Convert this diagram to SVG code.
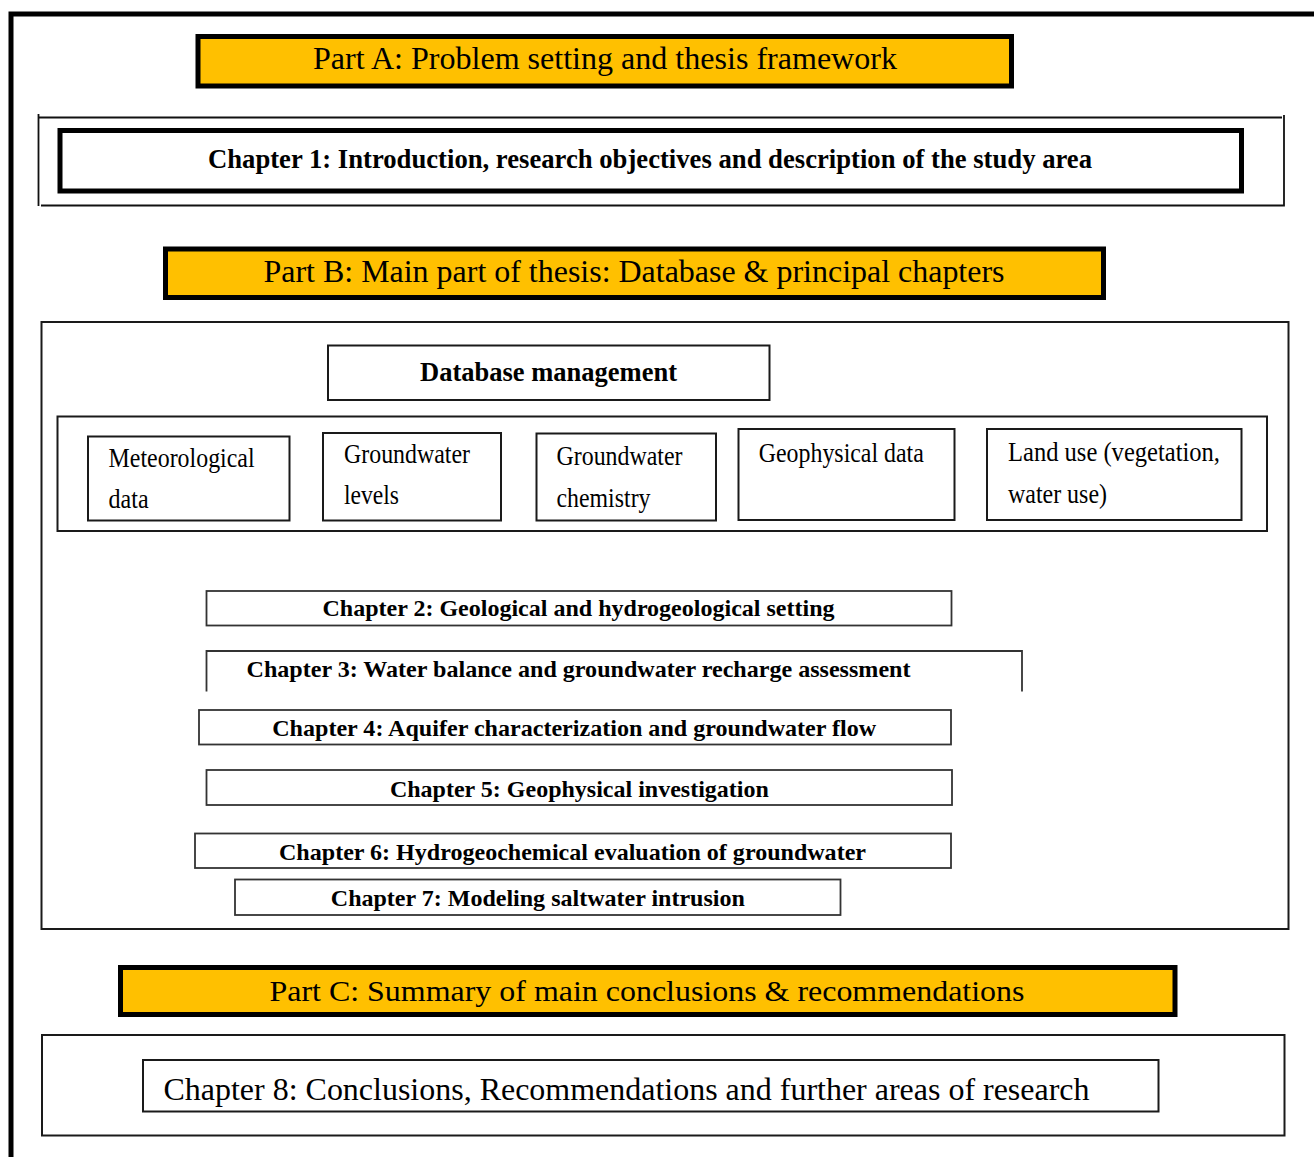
<svg xmlns="http://www.w3.org/2000/svg" width="1314" height="1157" viewBox="0 0 1314 1157">
<style>
.t{font-family:"Liberation Serif","Times New Roman",serif;fill:#000}
.b{font-weight:bold}
.part{fill:#FFC000;stroke:#000;stroke-width:5}
.thick{fill:#fff;stroke:#000;stroke-width:5}
.box{fill:none;stroke:#1a1a1a;stroke-width:2}
.ch{fill:#fff;stroke:#333;stroke-width:1.8}
.ln{fill:none;stroke:#111;stroke-width:1.8}
</style>
<rect width="1314" height="1157" fill="#fff"/>
<g id="frame">
<path d="M11,1157 V14 H1314" fill="none" stroke="#000" stroke-width="5"/>
</g>
<g id="partA">
<rect class="part" x="198" y="36.5" width="813.5" height="49.5"/>
<text class="t" x="605" y="69" font-size="32" text-anchor="middle" textLength="584" lengthAdjust="spacingAndGlyphs">Part A: Problem setting and thesis framework</text>
</g>
<g id="ch1-frame">
<path class="ln" d="M38.5,114 V206 M39,117.5 H1282 M41,205.5 H1284.5 M1284,115 V206.5"/>
</g>
<g id="ch1">
<rect class="thick" x="60" y="130.5" width="1181.5" height="60.5"/>
<text class="t b" x="650" y="168" font-size="27" text-anchor="middle" textLength="884" lengthAdjust="spacingAndGlyphs">Chapter 1: Introduction, research objectives and description of the study area</text>
</g>
<g id="partB">
<rect class="part" x="165.5" y="249" width="938" height="48.5"/>
<text class="t" x="634" y="282" font-size="32" text-anchor="middle" textLength="741" lengthAdjust="spacingAndGlyphs">Part B: Main part of thesis: Database &amp; principal chapters</text>
</g>
<g id="partB-container">
<rect class="box" x="41.5" y="322" width="1247" height="607"/>
</g>
<g id="database">
<rect class="box" x="328" y="345.5" width="441.5" height="54.5"/>
<text class="t b" x="548.5" y="381" font-size="27" text-anchor="middle" textLength="257" lengthAdjust="spacingAndGlyphs">Database management</text>
</g>
<g id="data-container">
<rect class="box" x="57.5" y="416.5" width="1209.5" height="114.5"/>
</g>
<g id="meteo">
<rect class="box" x="88" y="436.5" width="201.5" height="84"/>
<text class="t" x="108.6" y="467" font-size="27" textLength="146" lengthAdjust="spacingAndGlyphs">Meteorological</text>
<text class="t" x="108.6" y="508" font-size="27" textLength="40" lengthAdjust="spacingAndGlyphs">data</text>
</g>
<g id="gw-levels">
<rect class="box" x="323" y="433" width="178" height="87.5"/>
<text class="t" x="344" y="463" font-size="27" textLength="126" lengthAdjust="spacingAndGlyphs">Groundwater</text>
<text class="t" x="344" y="504" font-size="27" textLength="55" lengthAdjust="spacingAndGlyphs">levels</text>
</g>
<g id="gw-chem">
<rect class="box" x="536.5" y="433.5" width="179.5" height="87"/>
<text class="t" x="556.5" y="464.5" font-size="27" textLength="126" lengthAdjust="spacingAndGlyphs">Groundwater</text>
<text class="t" x="556.5" y="506.5" font-size="27" textLength="94" lengthAdjust="spacingAndGlyphs">chemistry</text>
</g>
<g id="geophys">
<rect class="box" x="738.5" y="429" width="216" height="91"/>
<text class="t" x="758.8" y="462" font-size="27" textLength="165" lengthAdjust="spacingAndGlyphs">Geophysical data</text>
</g>
<g id="landuse">
<rect class="box" x="987" y="429" width="254.5" height="91"/>
<text class="t" x="1008" y="461" font-size="27" textLength="212" lengthAdjust="spacingAndGlyphs">Land use (vegetation,</text>
<text class="t" x="1008" y="503" font-size="27" textLength="99" lengthAdjust="spacingAndGlyphs">water use)</text>
</g>
<g id="ch2">
<rect class="ch" x="206.5" y="591" width="745" height="34.5"/>
<text class="t b" x="578.5" y="616" font-size="24" text-anchor="middle" textLength="512" lengthAdjust="spacingAndGlyphs">Chapter 2: Geological and hydrogeological setting</text>
</g>
<g id="ch3">
<path class="ch" fill="none" d="M206.5,691.5 V651 H1022 V691.5"/>
<text class="t b" x="578.5" y="677" font-size="24" text-anchor="middle" textLength="664" lengthAdjust="spacingAndGlyphs">Chapter 3: Water balance and groundwater recharge assessment</text>
</g>
<g id="ch4">
<rect class="ch" x="199" y="710" width="752" height="34.5"/>
<text class="t b" x="574.2" y="735.5" font-size="24" text-anchor="middle" textLength="604" lengthAdjust="spacingAndGlyphs">Chapter 4: Aquifer characterization and groundwater flow</text>
</g>
<g id="ch5">
<rect class="ch" x="206.5" y="770" width="745.5" height="35"/>
<text class="t b" x="579.4" y="797" font-size="24" text-anchor="middle" textLength="379" lengthAdjust="spacingAndGlyphs">Chapter 5: Geophysical investigation</text>
</g>
<g id="ch6">
<rect class="ch" x="195" y="833.5" width="756" height="34.5"/>
<text class="t b" x="572.5" y="859.5" font-size="24" text-anchor="middle" textLength="587" lengthAdjust="spacingAndGlyphs">Chapter 6: Hydrogeochemical evaluation of groundwater</text>
</g>
<g id="ch7">
<rect class="ch" x="235" y="879.5" width="605.5" height="35.5"/>
<text class="t b" x="537.8" y="905.5" font-size="24" text-anchor="middle" textLength="414" lengthAdjust="spacingAndGlyphs">Chapter 7: Modeling saltwater intrusion</text>
</g>
<g id="partC">
<rect class="part" x="120.5" y="967.5" width="1054.5" height="47"/>
<text class="t" x="647" y="1001" font-size="29" text-anchor="middle" textLength="755" lengthAdjust="spacingAndGlyphs">Part C: Summary of main conclusions &amp; recommendations</text>
</g>
<g id="ch8-container">
<rect class="box" x="42" y="1035" width="1242.5" height="100.5"/>
</g>
<g id="ch8">
<rect class="box" x="143" y="1060" width="1015.5" height="51.5"/>
<text class="t" x="163.5" y="1100" font-size="32" textLength="926" lengthAdjust="spacingAndGlyphs">Chapter 8: Conclusions, Recommendations and further areas of research</text>
</g>
</svg>
